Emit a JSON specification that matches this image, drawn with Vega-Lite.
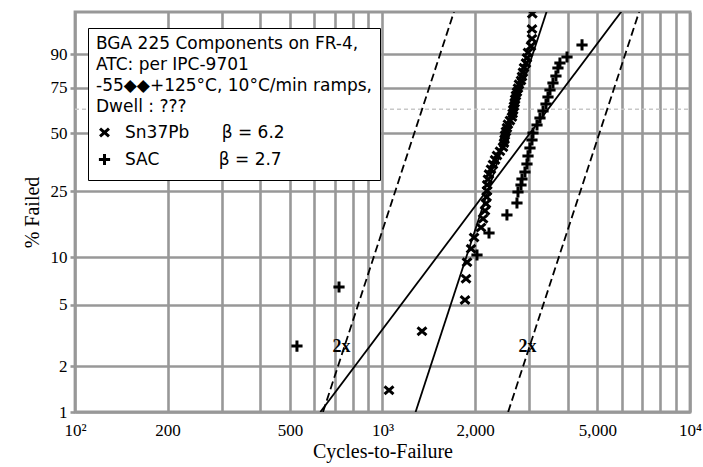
{
  "$schema": "https://vega.github.io/schema/vega-lite/v6.json",
  "width": 615,
  "height": 400,
  "autosize": "none",
  "padding": {"left": 75, "top": 12, "right": 13, "bottom": 55},
  "background": "white",
  "config": {
    "view": {"stroke": "#989898", "strokeWidth": 2.8},
    "legend": {
      "orient": "none",
      "legendX": 13,
      "legendY": 16,
      "direction": "vertical",
      "fillColor": "white",
      "strokeColor": "black",
      "padding": 8,
      "titleFont": "DejaVu Sans",
      "titleFontSize": 17,
      "titleFontWeight": "normal",
      "titleColor": "black",
      "titleLineHeight": 21,
      "titleLimit": 600,
      "titlePadding": 8,
      "labelFont": "DejaVu Sans",
      "labelFontSize": 17,
      "labelColor": "black",
      "labelLimit": 600,
      "labelOffset": 12,
      "rowPadding": 4,
      "symbolSize": 125,
      "symbolStrokeWidth": 3,
      "symbolStrokeColor": "black",
      "symbolFillColor": "transparent"
    }
  },
  "datasets": {
    "pts": [
      {"alloy": "Sn37Pb", "N": 1050, "F": 1.39},
      {"alloy": "Sn37Pb", "N": 1344, "F": 3.37},
      {"alloy": "Sn37Pb", "N": 1855, "F": 5.36},
      {"alloy": "Sn37Pb", "N": 1869, "F": 7.34},
      {"alloy": "Sn37Pb", "N": 1883, "F": 9.33},
      {"alloy": "Sn37Pb", "N": 1941, "F": 11.31},
      {"alloy": "Sn37Pb", "N": 1985, "F": 13.29},
      {"alloy": "Sn37Pb", "N": 2091, "F": 15.28},
      {"alloy": "Sn37Pb", "N": 2123, "F": 17.26},
      {"alloy": "Sn37Pb", "N": 2154, "F": 19.25},
      {"alloy": "Sn37Pb", "N": 2170, "F": 21.23},
      {"alloy": "Sn37Pb", "N": 2180, "F": 23.21},
      {"alloy": "Sn37Pb", "N": 2187, "F": 25.2},
      {"alloy": "Sn37Pb", "N": 2190, "F": 27.18},
      {"alloy": "Sn37Pb", "N": 2203, "F": 29.17},
      {"alloy": "Sn37Pb", "N": 2220, "F": 31.15},
      {"alloy": "Sn37Pb", "N": 2253, "F": 33.13},
      {"alloy": "Sn37Pb", "N": 2287, "F": 35.12},
      {"alloy": "Sn37Pb", "N": 2322, "F": 37.1},
      {"alloy": "Sn37Pb", "N": 2357, "F": 39.09},
      {"alloy": "Sn37Pb", "N": 2410, "F": 41.07},
      {"alloy": "Sn37Pb", "N": 2465, "F": 43.06},
      {"alloy": "Sn37Pb", "N": 2483, "F": 45.04},
      {"alloy": "Sn37Pb", "N": 2495, "F": 47.02},
      {"alloy": "Sn37Pb", "N": 2502, "F": 49.01},
      {"alloy": "Sn37Pb", "N": 2520, "F": 50.99},
      {"alloy": "Sn37Pb", "N": 2539, "F": 52.98},
      {"alloy": "Sn37Pb", "N": 2558, "F": 54.96},
      {"alloy": "Sn37Pb", "N": 2597, "F": 56.94},
      {"alloy": "Sn37Pb", "N": 2636, "F": 58.93},
      {"alloy": "Sn37Pb", "N": 2650, "F": 60.91},
      {"alloy": "Sn37Pb", "N": 2660, "F": 62.9},
      {"alloy": "Sn37Pb", "N": 2676, "F": 64.88},
      {"alloy": "Sn37Pb", "N": 2690, "F": 66.87},
      {"alloy": "Sn37Pb", "N": 2700, "F": 68.85},
      {"alloy": "Sn37Pb", "N": 2716, "F": 70.83},
      {"alloy": "Sn37Pb", "N": 2737, "F": 72.82},
      {"alloy": "Sn37Pb", "N": 2758, "F": 74.8},
      {"alloy": "Sn37Pb", "N": 2779, "F": 76.79},
      {"alloy": "Sn37Pb", "N": 2821, "F": 78.77},
      {"alloy": "Sn37Pb", "N": 2842, "F": 80.75},
      {"alloy": "Sn37Pb", "N": 2863, "F": 82.74},
      {"alloy": "Sn37Pb", "N": 2885, "F": 84.72},
      {"alloy": "Sn37Pb", "N": 2928, "F": 86.71},
      {"alloy": "Sn37Pb", "N": 2950, "F": 88.69},
      {"alloy": "Sn37Pb", "N": 2973, "F": 90.67},
      {"alloy": "Sn37Pb", "N": 3040, "F": 92.66},
      {"alloy": "Sn37Pb", "N": 3063, "F": 94.64},
      {"alloy": "Sn37Pb", "N": 3063, "F": 96.63},
      {"alloy": "Sn37Pb", "N": 3070, "F": 98.61},
      {"alloy": "SAC", "N": 527, "F": 2.7},
      {"alloy": "SAC", "N": 722, "F": 6.5},
      {"alloy": "SAC", "N": 2029, "F": 10.35},
      {"alloy": "SAC", "N": 2220, "F": 14.15},
      {"alloy": "SAC", "N": 2539, "F": 18.19},
      {"alloy": "SAC", "N": 2737, "F": 21.4},
      {"alloy": "SAC", "N": 2758, "F": 24.76},
      {"alloy": "SAC", "N": 2821, "F": 27.14},
      {"alloy": "SAC", "N": 2842, "F": 29.31},
      {"alloy": "SAC", "N": 2906, "F": 31.99},
      {"alloy": "SAC", "N": 2950, "F": 35.31},
      {"alloy": "SAC", "N": 2973, "F": 38.87},
      {"alloy": "SAC", "N": 3017, "F": 42.62},
      {"alloy": "SAC", "N": 3063, "F": 46.61},
      {"alloy": "SAC", "N": 3086, "F": 50.23},
      {"alloy": "SAC", "N": 3180, "F": 54.54},
      {"alloy": "SAC", "N": 3252, "F": 58.37},
      {"alloy": "SAC", "N": 3327, "F": 62.25},
      {"alloy": "SAC", "N": 3402, "F": 66.19},
      {"alloy": "SAC", "N": 3453, "F": 70.05},
      {"alloy": "SAC", "N": 3505, "F": 73.86},
      {"alloy": "SAC", "N": 3584, "F": 77.51},
      {"alloy": "SAC", "N": 3665, "F": 80.96},
      {"alloy": "SAC", "N": 3720, "F": 84.65},
      {"alloy": "SAC", "N": 3776, "F": 86.76},
      {"alloy": "SAC", "N": 3981, "F": 89.08},
      {"alloy": "SAC", "N": 4455, "F": 93.0}
    ],
    "fits": [
      {"line": "eta", "N": 100, "F": 63.212},
      {"line": "eta", "N": 10000, "F": 63.212},
      {"line": "lower", "N": 640.5, "F": 1},
      {"line": "lower", "N": 1760, "F": 99.5},
      {"line": "upper", "N": 2562, "F": 1},
      {"line": "upper", "N": 7040, "F": 99.5},
      {"line": "Sn37Pb", "N": 1281, "F": 1},
      {"line": "Sn37Pb", "N": 3520, "F": 99.5},
      {"line": "SAC", "N": 628, "F": 1},
      {"line": "SAC", "N": 6398, "F": 99.5}
    ],
    "notes": [
      {"N": 735, "F": 2.66, "label": "2x"},
      {"N": 2960, "F": 2.66, "label": "2x"}
    ]
  },
  "encoding": {
    "x": {
      "field": "N",
      "type": "quantitative",
      "scale": {"type": "log", "domain": [100, 10000], "nice": false},
      "axis": {
        "values": [100, 200, 300, 400, 500, 600, 700, 800, 900, 1000, 2000, 3000, 4000, 5000, 6000, 7000, 8000, 9000, 10000],
        "labelExpr": "datum.value == 100 ? '10²' : datum.value == 200 ? '200' : datum.value == 500 ? '500' : datum.value == 1000 ? '10³' : datum.value == 2000 ? '2,000' : datum.value == 5000 ? '5,000' : datum.value == 10000 ? '10⁴' : ''",
        "labelOverlap": false,
        "labelFlush": false,
        "labelFont": "Liberation Serif",
        "labelFontSize": 17,
        "labelColor": "black",
        "labelPadding": 10,
        "ticks": false,
        "domain": false,
        "grid": true,
        "gridColor": "#989898",
        "gridWidth": 2.6,
        "title": "Cycles-to-Failure",
        "titleFont": "Liberation Serif",
        "titleFontSize": 20,
        "titleFontWeight": "normal",
        "titleColor": "black",
        "titlePadding": 3
      }
    },
    "y": {
      "field": "w",
      "type": "quantitative",
      "scale": {"domain": [-4.60015, 1.479], "nice": false, "zero": false},
      "axis": {
        "values": [-4.60015, -3.90194, -2.9702, -2.25037, -1.2459, -0.36651, 0.32663, 0.83403],
        "labelExpr": "format(100 * (1 - exp(-exp(datum.value))), '.0f')",
        "labelOverlap": false,
        "labelFont": "Liberation Serif",
        "labelFontSize": 17,
        "labelColor": "black",
        "labelPadding": 3,
        "tickSize": 5,
        "tickColor": "#989898",
        "tickWidth": 2.6,
        "domain": false,
        "grid": true,
        "gridColor": "#989898",
        "gridWidth": 2.6,
        "title": "% Failed",
        "titleFont": "Liberation Serif",
        "titleFontSize": 20,
        "titleFontWeight": "normal",
        "titleColor": "black",
        "titlePadding": 8
      }
    }
  },
  "layer": [
    {
      "data": {"name": "fits"},
      "transform": [
        {"filter": "datum.line == 'eta'"},
        {"calculate": "log(-log(1 - datum.F / 100))", "as": "w"}
      ],
      "mark": {"type": "line", "stroke": "#c8c8c8", "strokeDash": [4, 3], "strokeWidth": 1.5, "clip": true},
      "encoding": {"detail": {"field": "line"}}
    },
    {
      "data": {"name": "fits"},
      "transform": [
        {"filter": "datum.line == 'lower' || datum.line == 'upper'"},
        {"calculate": "log(-log(1 - datum.F / 100))", "as": "w"}
      ],
      "mark": {"type": "line", "stroke": "black", "strokeDash": [8, 4], "strokeWidth": 1.8, "clip": true},
      "encoding": {"detail": {"field": "line"}}
    },
    {
      "data": {"name": "fits"},
      "transform": [
        {"filter": "datum.line == 'Sn37Pb' || datum.line == 'SAC'"},
        {"calculate": "log(-log(1 - datum.F / 100))", "as": "w"}
      ],
      "mark": {"type": "line", "stroke": "black", "strokeWidth": 1.8, "clip": true},
      "encoding": {"detail": {"field": "line"}}
    },
    {
      "data": {"name": "pts"},
      "transform": [
        {"calculate": "log(-log(1 - datum.F / 100))", "as": "w"}
      ],
      "mark": {"type": "point", "filled": false, "stroke": "black", "strokeWidth": 3, "size": 125, "opacity": 1, "clip": true},
      "encoding": {
        "shape": {
          "field": "alloy",
          "type": "nominal",
          "scale": {"domain": ["Sn37Pb", "SAC"], "range": ["M-0.8,-0.7L0.8,0.7M-0.8,0.7L0.8,-0.7", "M-1,0L1,0M0,-1L0,1"]},
          "legend": {
            "title": ["BGA 225 Components on FR-4,", "ATC: per IPC-9701", "-55◆◆+125°C, 10°C/min ramps,", "Dwell : ???"],
            "labelExpr": "datum.label == 'Sn37Pb' ? 'Sn37Pb\u00a0\u00a0\u00a0\u00a0\u00a0\u00a0β = 6.2' : 'SAC\u00a0\u00a0\u00a0\u00a0\u00a0\u00a0\u00a0\u00a0\u00a0\u00a0\u00a0β = 2.7'"
          }
        }
      }
    },
    {
      "data": {"name": "notes"},
      "transform": [
        {"calculate": "log(-log(1 - datum.F / 100))", "as": "w"}
      ],
      "mark": {"type": "text", "font": "Liberation Serif", "fontSize": 18, "fontWeight": "bold", "color": "black", "align": "center", "baseline": "middle"},
      "encoding": {"text": {"field": "label"}}
    }
  ]
}
